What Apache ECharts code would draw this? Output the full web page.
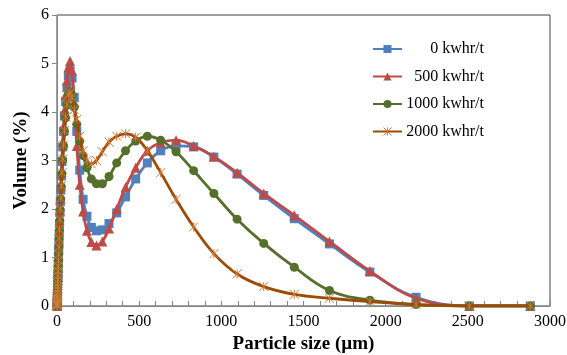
<!DOCTYPE html>
<html>
<head>
<meta charset="utf-8">
<script src="https://cdn.jsdelivr.net/npm/echarts@6/dist/echarts.min.js"></script>
<style>
  html, body { margin: 0; padding: 0; background: #fff; }
  #chart { width: 567px; height: 355px; }
</style>
</head>
<body>
<div id="chart"></div>
<script>
// particle size bins (um)
var sizes = [1.0,1.1,1.3,1.5,1.7,1.9,2.2,2.5,2.9,3.3,3.8,4.4,5.0,5.8,6.6,7.6,8.7,10.0,11.5,13.2,
  15.2,17.4,20.0,23.0,26.4,30.3,34.8,39.9,45.8,52.6,60.4,69.3,79.6,91.4,104.9,120.4,138.3,158.7,182.2,209.2,
  240.1,275.7,316.5,363.3,417.1,478.8,549.7,631.0,724.4,831.6,954.7,1096,1258,1444,1658,1904,2185,2509,2880];

// volume (%) per energy input
var vol0 = [0.0,0.02,0.05,0.08,0.12,0.16,0.2,0.25,0.3,0.36,0.42,0.5,0.58,0.67,0.77,0.88,1.0,1.15,1.32,1.5,
  1.7,1.92,2.15,2.4,2.68,2.98,3.28,3.6,3.92,4.22,4.5,4.75,4.85,4.7,4.3,3.6,2.8,2.2,1.85,1.62,
  1.55,1.57,1.7,1.92,2.25,2.62,2.95,3.2,3.3,3.28,3.07,2.72,2.28,1.8,1.28,0.7,0.18,0.0,0.0];
var vol500 = [0.0,0.02,0.05,0.08,0.12,0.16,0.21,0.26,0.31,0.37,0.44,0.52,0.6,0.69,0.79,0.9,1.03,1.18,1.35,1.54,
  1.75,1.97,2.21,2.47,2.75,3.06,3.38,3.7,4.03,4.35,4.65,4.92,5.05,4.85,4.2,3.3,2.5,1.95,1.55,1.32,
  1.25,1.33,1.6,2.0,2.45,2.85,3.2,3.37,3.42,3.3,3.08,2.75,2.32,1.87,1.33,0.72,0.16,0.0,0.0];
var vol1000 = [0.0,0.02,0.04,0.07,0.1,0.14,0.18,0.23,0.28,0.33,0.39,0.46,0.53,0.62,0.71,0.81,0.92,1.06,1.21,1.38,
  1.56,1.76,1.98,2.21,2.46,2.73,3.01,3.3,3.6,3.88,4.14,4.35,4.42,4.35,4.1,3.75,3.4,3.1,2.85,2.62,
  2.52,2.52,2.67,2.95,3.2,3.4,3.5,3.42,3.18,2.79,2.32,1.79,1.29,0.8,0.32,0.12,0.03,0.0,0.0];
var vol2000 = [0.0,0.02,0.04,0.07,0.1,0.14,0.18,0.23,0.28,0.34,0.4,0.47,0.54,0.63,0.72,0.82,0.94,1.07,1.22,1.39,
  1.58,1.78,2.0,2.23,2.48,2.75,3.03,3.32,3.62,3.9,4.15,4.35,4.4,4.3,4.05,3.85,3.5,3.2,3.0,2.93,
  3.0,3.18,3.38,3.5,3.55,3.48,3.2,2.75,2.2,1.63,1.08,0.66,0.4,0.24,0.16,0.09,0.03,0.0,0.0];

var names = ['0 kwhr/t', '500 kwhr/t', '1000 kwhr/t', '2000 kwhr/t'];
var colors = ['#4F81BD', '#BE4B48', '#55702C', '#9C4A06'];
var symbols = ['rect', 'triangle', 'circle', 'path://M0,0L10,10M10,0L0,10M5,0L5,10'];
var symbolSizes = [9, 10, 9, 9];
var allVols = [vol0, vol500, vol1000, vol2000];

function pairs(ys) {
  return sizes.map(function (x, i) { return [x, ys[i]]; });
}

var font = 'Liberation Serif';
var starStyle = { color: 'rgba(0,0,0,0)', borderColor: '#D07A3A', borderWidth: 1 };
var myChart = echarts.init(document.getElementById('chart'));

var series = names.map(function (n, k) {
  return {
    name: n,
    type: 'line',
    smooth: 0.4,
    data: pairs(allVols[k]),
    symbol: symbols[k],
    symbolSize: symbolSizes[k],
    lineStyle: { color: colors[k], width: 2.8 },
    itemStyle: k === 3 ? starStyle : { color: colors[k] },
    z: 2 + k
  };
});

myChart.setOption({
  animation: false,
  grid: {
    left: 57, right: 17, top: 15, bottom: 49,
    outerBoundsMode: 'none',
    containLabel: false,
    show: true, borderColor: '#404040', borderWidth: 1
  },
  legend: {
    orient: 'vertical',
    left: 367,
    top: 36,
    itemWidth: 29,
    itemHeight: 10,
    itemGap: 11.5,
    data: names.map(function (n, k) {
      return { name: n, itemStyle: k === 3 ? starStyle : undefined };
    }),
    formatter: function (n) { return '{t|' + n + '}'; },
    textStyle: {
      fontFamily: font, fontSize: 16, color: '#000',
      rich: { t: { fontFamily: font, fontSize: 16, color: '#000', width: 77, align: 'right' } }
    }
  },
  xAxis: {
    type: 'value',
    min: 0, max: 3000, interval: 500,
    name: 'Particle size (\u00b5m)',
    nameLocation: 'middle',
    nameGap: 26,
    nameTextStyle: { fontFamily: font, fontSize: 19, fontWeight: 'bold', color: '#000' },
    axisLine: { lineStyle: { color: '#868686', width: 1 } },
    axisTick: { show: true, inside: true, length: 5, lineStyle: { color: '#868686' } },
    minorTick: { show: true, splitNumber: 5, length: 5, lineStyle: { color: '#868686' } },
    axisLabel: { fontFamily: font, fontSize: 16, color: '#000', margin: 8, formatter: function (v) { return String(v); } },
    splitLine: { show: false }
  },
  yAxis: {
    type: 'value',
    min: 0, max: 6, interval: 1,
    name: 'Volume (%)',
    nameLocation: 'middle',
    nameRotate: 90,
    nameGap: 25,
    nameTextStyle: { fontFamily: font, fontSize: 19, fontWeight: 'bold', color: '#000' },
    axisLine: { show: true, lineStyle: { color: '#868686', width: 1 } },
    axisTick: { show: true, inside: false, length: 5, lineStyle: { color: '#868686' } },
    axisLabel: { fontFamily: font, fontSize: 16, color: '#000', margin: 8 },
    splitLine: { show: false }
  },
  series: series
});
</script>
</body>
</html>
